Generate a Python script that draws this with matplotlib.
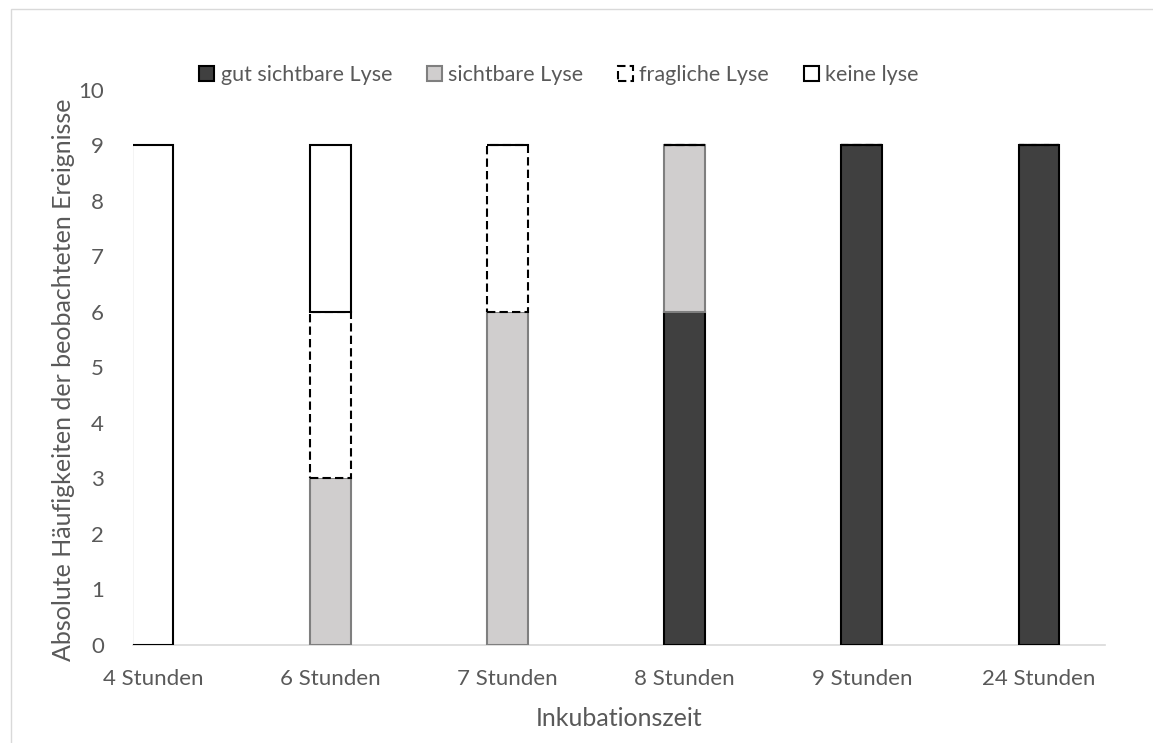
import matplotlib
matplotlib.use("Agg")
import matplotlib.pyplot as plt
from matplotlib.patches import Patch, Rectangle
import numpy as np

# Inkubationszeiten und beobachtete Lyse je Kategorie
zeiten = ["4 Stunden", "6 Stunden", "7 Stunden", "8 Stunden", "9 Stunden", "24 Stunden"]
gut_sichtbar = [0, 0, 0, 6, 9, 9]
sichtbar = [0, 3, 6, 3, 0, 0]
fraglich = [0, 3, 3, 0, 0, 0]
keine = [9, 3, 0, 0, 0, 0]

plt.rcParams['font.family'] = ['Lato', 'DejaVu Sans']
grau_text = "#595959"

fig = plt.figure(figsize=(11.53, 7.43), dpi=100)
ax = fig.add_axes([0.1153, 0.1319, 0.843, 0.747])

x = np.arange(len(zeiten))
breite = 0.231

# Stapel von unten nach oben
unten = np.zeros(len(zeiten))
ax.bar(x, gut_sichtbar, breite, bottom=unten, color="#404040",
       edgecolor="black", linewidth=1.5, zorder=3)
unten += gut_sichtbar
ax.bar(x, sichtbar, breite, bottom=unten, color="#d0cece",
       edgecolor="#7f7f7f", linewidth=1.5, zorder=3)
unten += sichtbar
ax.bar(x, fraglich, breite, bottom=unten, color="white",
       edgecolor="black", linewidth=1.5, linestyle=(0, (4, 2)), zorder=4)
unten += fraglich
ax.bar(x, keine, breite, bottom=unten, color="white",
       edgecolor="black", linewidth=1.5, zorder=4)

ax.set_xlim(-0.113, 5.372)
ax.set_ylim(0, 10)
ax.set_yticks(range(0, 11))
ax.set_xticks(x)
ax.set_xticklabels(zeiten)
ax.tick_params(axis="both", length=0, labelsize=16, colors=grau_text)
ax.tick_params(axis="y", pad=21)
ax.tick_params(axis="x", pad=17)

for s in ["top", "right", "left"]:
    ax.spines[s].set_visible(False)
ax.spines["bottom"].set_color("#d9d9d9")
ax.spines["bottom"].set_linewidth(1.2)

fig.text(64 / 1153, 0.4886, "Absolute Häufigkeiten der beobachteten Ereignisse",
         rotation=90, ha="center", va="center", fontsize=18, color=grau_text)
fig.text(619 / 1153, 1 - 718 / 743, "Inkubationszeit",
         ha="center", va="center", fontsize=18, color=grau_text)

# Legende oben
griffe = [
    Patch(facecolor="#404040", edgecolor="black", linewidth=1.5, label="gut sichtbare Lyse"),
    Patch(facecolor="#d0cece", edgecolor="#7f7f7f", linewidth=1.5, label="sichtbare Lyse"),
    Patch(facecolor="white", edgecolor="black", linewidth=1.5, linestyle=(0, (4, 2)), label="fragliche Lyse"),
    Patch(facecolor="white", edgecolor="black", linewidth=1.5, label="keine lyse"),
]
leg = fig.legend(handles=griffe, loc="center", bbox_to_anchor=(559 / 1153, 1 - 75 / 743),
                 ncol=4, frameon=False, fontsize=15.5, handlelength=0.7, handleheight=0.7,
                 handletextpad=0.3, columnspacing=1.6)
for t in leg.get_texts():
    t.set_color(grau_text)

# Rahmen des Diagrammbereichs
fig.patches.append(Rectangle((11 / 1153, -0.1), 1.2, 1.1 - 9 / 743, transform=fig.transFigure,
                             fill=False, edgecolor="#d9d9d9", linewidth=1))

fig.savefig("out.png", dpi=100)
